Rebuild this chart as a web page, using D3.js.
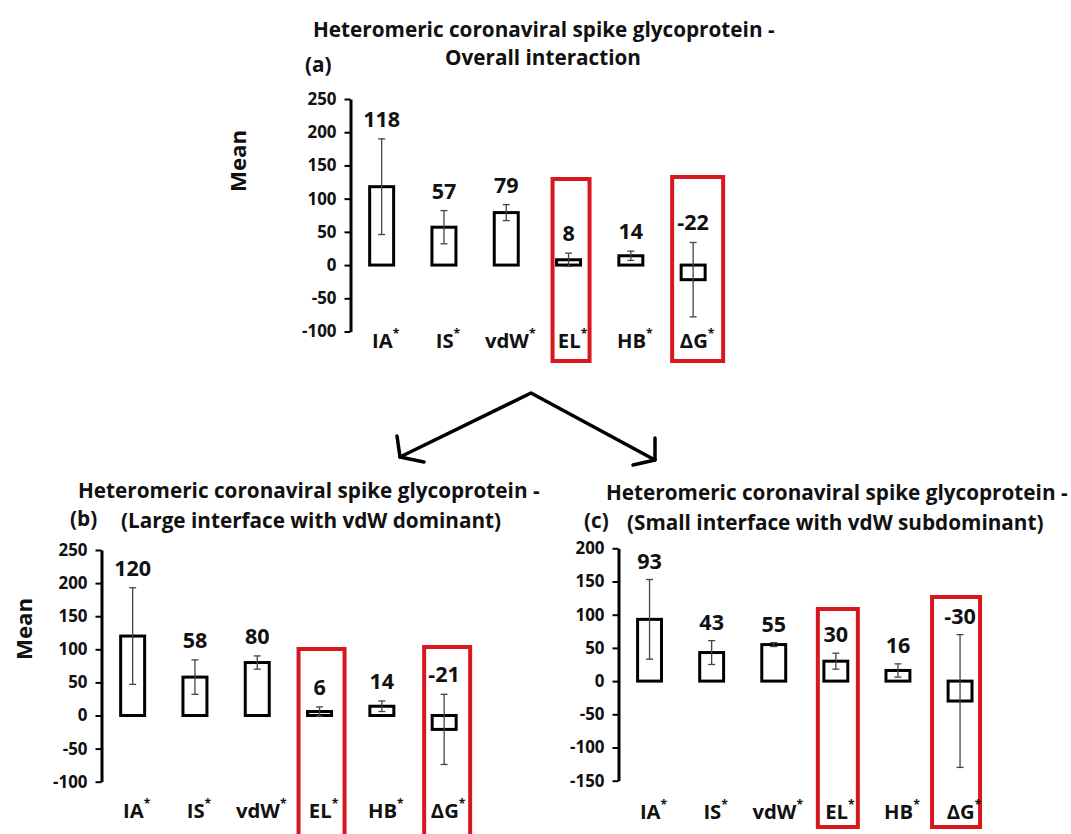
<!DOCTYPE html>
<html>
<head>
<meta charset="utf-8">
<script src="https://cdn.jsdelivr.net/npm/d3@7"></script>
<style>
  html, body { margin: 0; padding: 0; background: #fff; }
  svg text { font-family: "Open Sans", Lato, sans-serif; font-weight: 700; fill: #111; }
</style>
</head>
<body>
<svg id="chart" width="1071" height="834"></svg>
<script>
// ---------------- DATA ----------------
const categories = ["IA", "IS", "vdW", "EL", "HB", "ΔG"];
const highlighted = ["EL", "ΔG"];

const meanOverall = [118, 57, 79, 8, 14, -22];
const errOverall  = [72, 25, 12, 10, 7, 56];

const meanLarge = [120, 58, 80, 6, 14, -21];
const errLarge  = [73, 26, 10, 7, 8, 53];

const meanSmall = [93, 43, 55, 30, 16, -30];
const errSmall  = [60, 18, 3, 12, 10, 100];

const ticksOverall = [-100, -50, 0, 50, 100, 150, 200, 250];
const ticksLarge   = [-100, -50, 0, 50, 100, 150, 200, 250];
const ticksSmall   = [-150, -100, -50, 0, 50, 100, 150, 200];

const titleLine1 = "Heteromeric coronaviral spike glycoprotein -";
const subtitleOverall = "Overall interaction";
const subtitleLarge = "(Large interface with vdW dominant)";
const subtitleSmall = "(Small interface with vdW subdominant)";

// ---------------- LAYOUT ----------------
const svg = d3.select("#chart");
const RED = "#d7191f";

// font size that makes `txt` span `target` px
function fit(txt, target) {
  const t = svg.append("text").style("font-size", "100px").text(txt);
  const w = t.node().getComputedTextLength();
  t.remove();
  return 100 * target / w;
}
const FS_TITLE = fit(titleLine1, 462);
const FS_CAT = fit("vdW", 44);
const FS_VAL = fit("118", 37);
const FS_TICK = fit("200", 29);
const FS_MEAN = fit("Mean", 62);

const panels = [
  {
    tag: "(a)", mean: meanOverall, err: errOverall, ticks: ticksOverall, sub: subtitleOverall,
    domain: [-100, 250], yRange: [331.5, 99], xRange: [350.5, 724.3],
    title: { l1x: 313, l1y: 37, l2x: 445, l2y: 65, tagx: 305, tagy: 72 },
    meanLabel: { x: 238, y: 161 },
    xLabelY: 348, labelGap: 12,
    boxes: { EL: [-18, 23, 177, 363], "ΔG": [-23, 32, 175, 363] }
  },
  {
    tag: "(b)", mean: meanLarge, err: errLarge, ticks: ticksLarge, sub: subtitleLarge,
    domain: [-100, 250], yRange: [781.7, 550], xRange: [101.5, 475.3],
    title: { l1x: 78, l1y: 498, l2x: 121, l2y: 528, tagx: 70, tagy: 526 },
    meanLabel: { x: 24, y: 629 },
    xLabelY: 818, labelGap: 12,
    boxes: { EL: [-23, 27, 647, 860], "ΔG": [-22, 28, 645, 860] }
  },
  {
    tag: "(c)", mean: meanSmall, err: errSmall, ticks: ticksSmall, sub: subtitleSmall,
    domain: [-150, 200], yRange: [780.7, 548.3], xRange: [618.5, 991.1],
    title: { l1x: 606, l1y: 500, l2x: 627, l2y: 530, tagx: 584, tagy: 528 },
    meanLabel: null,
    xLabelY: 819, labelGap: 11,
    boxes: { EL: [-20, 24, 607, 829], "ΔG": [-30, 22, 595, 829] }
  }
];

panels.forEach(p => {
  const g = svg.append("g");
  const y = d3.scaleLinear().domain(p.domain).range(p.yRange);
  const x = d3.scaleBand().domain(categories).range(p.xRange)
              .paddingInner(0.615).paddingOuter(0.3075);
  const bw = x.bandwidth();
  const cx = c => x(c) + bw / 2;
  const rows = categories.map((c, i) => ({ c, m: p.mean[i], e: p.err[i] }));

  // red highlight boxes
  highlighted.forEach(c => {
    const b = p.boxes[c];
    g.append("rect")
      .attr("x", cx(c) + b[0] + 2).attr("y", b[2] + 2)
      .attr("width", b[1] - b[0] - 4).attr("height", b[3] - b[2] - 4)
      .attr("fill", "none").attr("stroke", RED).attr("stroke-width", 4);
  });

  // y axis
  const ax = g.append("g")
    .attr("transform", `translate(${p.xRange[0]},0)`)
    .call(d3.axisLeft(y).tickValues(p.ticks).tickFormat(d => String(d))
          .tickSize(6).tickSizeOuter(0).tickPadding(8));
  ax.select(".domain").attr("stroke", "#000").attr("stroke-width", 3);
  ax.selectAll(".tick line").attr("stroke", "#000").attr("stroke-width", 2);
  ax.selectAll(".tick text")
    .style("font-family", "'Open Sans', Lato, sans-serif")
    .style("font-weight", 700).style("font-size", FS_TICK + "px").attr("fill", "#111");

  // bars
  g.selectAll("rect.bar").data(rows).join("rect")
    .attr("class", "bar")
    .attr("x", d => x(d.c))
    .attr("width", bw)
    .attr("y", d => Math.min(y(d.m), y(0)))
    .attr("height", d => Math.abs(y(d.m) - y(0)))
    .attr("fill", "#fff").attr("stroke", "#000").attr("stroke-width", 3);

  // error bars
  const eg = g.selectAll("g.err").data(rows).join("g").attr("class", "err")
    .attr("stroke", "#444").attr("stroke-width", 1.3);
  eg.append("line")
    .attr("x1", d => cx(d.c)).attr("x2", d => cx(d.c))
    .attr("y1", d => y(d.m + d.e)).attr("y2", d => y(d.m - d.e));
  eg.append("line")
    .attr("x1", d => cx(d.c) - 3.5).attr("x2", d => cx(d.c) + 3.5)
    .attr("y1", d => y(d.m + d.e)).attr("y2", d => y(d.m + d.e));
  eg.append("line")
    .attr("x1", d => cx(d.c) - 3.5).attr("x2", d => cx(d.c) + 3.5)
    .attr("y1", d => y(d.m - d.e)).attr("y2", d => y(d.m - d.e));

  // value labels
  g.selectAll("text.val").data(rows).join("text")
    .attr("class", "val")
    .attr("x", d => cx(d.c))
    .attr("y", d => y(d.m + d.e) - p.labelGap)
    .attr("text-anchor", "middle")
    .style("font-size", FS_VAL + "px")
    .text(d => d.m);

  // category labels with superscript asterisk
  const xl = g.selectAll("text.cat").data(rows).join("text")
    .attr("class", "cat")
    .attr("x", d => cx(d.c) + 4)
    .attr("y", p.xLabelY)
    .attr("text-anchor", "middle")
    .style("font-size", FS_CAT + "px");
  xl.append("tspan").text(d => d.c);
  xl.append("tspan").attr("dy", -10).style("font-size", (FS_CAT * 0.6) + "px").text("*");

  // titles
  const t = p.title;
  g.append("text").attr("x", t.l1x).attr("y", t.l1y).style("font-size", FS_TITLE + "px").text(titleLine1);
  g.append("text").attr("x", t.l2x).attr("y", t.l2y).style("font-size", FS_TITLE + "px").text(p.sub);
  g.append("text").attr("x", t.tagx).attr("y", t.tagy).style("font-size", FS_TITLE + "px").text(p.tag);

  if (p.meanLabel) {
    g.append("text")
      .attr("transform", `translate(${p.meanLabel.x + FS_MEAN * 0.36},${p.meanLabel.y}) rotate(-90)`)
      .attr("text-anchor", "middle")
      .style("font-size", FS_MEAN + "px")
      .text("Mean");
  }
});

// arrows from (a) to (b) and (c)
const arrow = svg.append("g").attr("fill", "none").attr("stroke", "#000")
  .attr("stroke-width", 3.5).attr("stroke-linecap", "round").attr("stroke-linejoin", "round");
arrow.append("path").attr("d", "M400,457 L531,393 L655,460");
arrow.append("path").attr("d", "M397,436 L400,457 L424,462");
arrow.append("path").attr("d", "M655,438 L655,460 L633,465");
</script>
</body>
</html>
